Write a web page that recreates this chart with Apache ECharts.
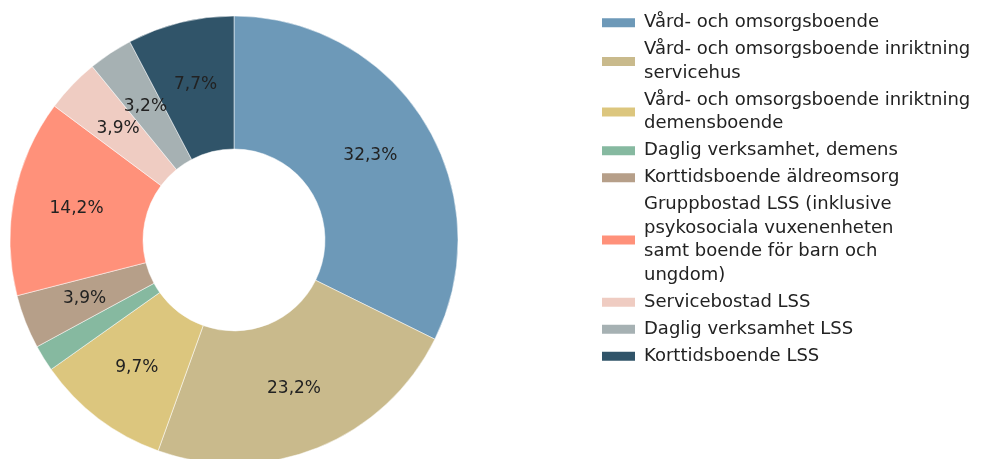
<!DOCTYPE html>
<html><head><meta charset="utf-8">
<script src="https://cdn.jsdelivr.net/npm/echarts@6/dist/echarts.min.js"></script>
<style>html,body{margin:0;padding:0;background:#fff}#c{width:982px;height:459px}</style>
</head><body><div id="c"></div>
<script>
const categories = [
  'Vård- och omsorgsboende',
  'Vård- och omsorgsboende inriktning servicehus',
  'Vård- och omsorgsboende inriktning demensboende',
  'Daglig verksamhet, demens',
  'Korttidsboende äldreomsorg',
  'Gruppbostad LSS (inklusive psykosociala vuxenenheten samt boende för barn och ungdom)',
  'Servicebostad LSS',
  'Daglig verksamhet LSS',
  'Korttidsboende LSS'
];
// legend text as wrapped in the reference
const legendLabels = [
  'Vård- och omsorgsboende',
  'Vård- och omsorgsboende inriktning\nservicehus',
  'Vård- och omsorgsboende inriktning\ndemensboende',
  'Daglig verksamhet, demens',
  'Korttidsboende äldreomsorg',
  'Gruppbostad LSS (inklusive\npsykosociala vuxenenheten\nsamt boende för barn och\nungdom)',
  'Servicebostad LSS',
  'Daglig verksamhet LSS',
  'Korttidsboende LSS'
];
const values = [32.3, 23.2, 9.7, 1.9, 3.9, 14.2, 3.9, 3.2, 7.7];
const colors = ['#6D99B8', '#C9BA8C', '#DCC67E', '#86B9A0', '#B69F89', '#FF917A', '#EFCCC2', '#A6B1B3', '#305469'];

const chart = echarts.init(document.getElementById('c'), null, {renderer: 'canvas'});
chart.setOption({
  animation: false,
  color: colors,
  legend: {
    orient: 'vertical',
    left: 595,
    top: 6,
    itemWidth: 35,
    itemHeight: 11,
    itemGap: 3.5,
    icon: 'rect',
    data: categories,
    formatter: name => legendLabels[categories.indexOf(name)],
    textStyle: {
      fontFamily: 'DejaVu Sans',
      fontSize: 18,
      color: '#222',
      lineHeight: 23.5,
      padding: [0, 0, 0, 3]
    }
  },
  series: [{
    type: 'pie',
    center: [234, 240],
    radius: [91, 224],
    startAngle: 90,
    clockwise: true,
    avoidLabelOverlap: false,
    itemStyle: {borderColor: '#fff', borderWidth: 0.5},
    label: {
      position: 'inside',
      fontFamily: 'DejaVu Sans',
      fontSize: 17,
      color: '#222',
      formatter: p => p.value < 2 ? '' : p.value.toFixed(1).replace('.', ',') + '%'
    },
    labelLine: {show: false},
    data: categories.map((n, i) => ({name: n, value: values[i]}))
  }]
});
</script></body></html>
